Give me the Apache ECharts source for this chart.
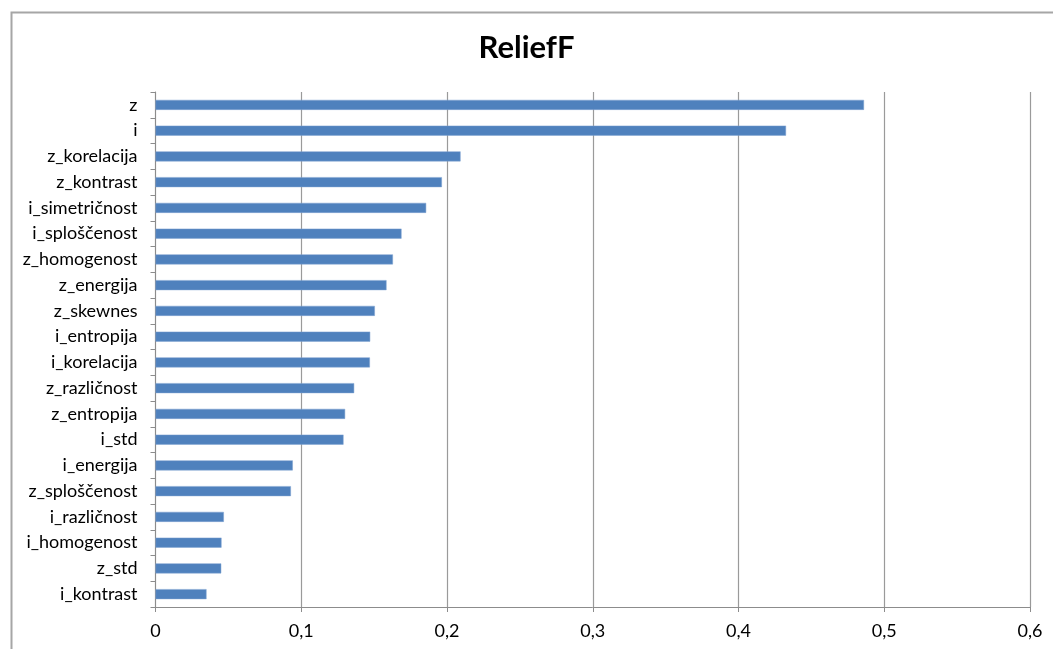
<!DOCTYPE html>
<html>
<head>
<meta charset="utf-8">
<script src="https://cdn.jsdelivr.net/npm/echarts@6/dist/echarts.min.js"></script>
<style>
html,body{margin:0;padding:0;background:#fff;}
#chart{width:1053px;height:649px;}
</style>
</head>
<body>
<div id="chart"></div>
<script>
var categories = ["z","i","z_korelacija","z_kontrast","i_simetričnost","i_sploščenost","z_homogenost","z_energija","z_skewnes","i_entropija","i_korelacija","z_različnost","z_entropija","i_std","i_energija","z_sploščenost","i_različnost","i_homogenost","z_std","i_kontrast"];
var values = [0.4861,0.4326,0.2093,0.1965,0.1857,0.1688,0.1629,0.1585,0.1505,0.1473,0.1471,0.1363,0.1301,0.1290,0.0942,0.0929,0.0469,0.0453,0.0451,0.0350];
var xTicks = [0,0.1,0.2,0.3,0.4,0.5,0.6];
var titleText = "ReliefF";

var FONT = "Lato, 'Open Sans', sans-serif";
var chart = echarts.init(document.getElementById('chart'), null, {renderer:'canvas'});
chart.setOption({
  backgroundColor:'#fff',
  animation:false,
  title:{
    text:titleText, left:'center', top:27,
    textStyle:{fontFamily:FONT, fontSize:31, fontWeight:'bold', color:'#000'}
  },
  graphic:[{
    type:'rect', left:9, top:10, silent:true,
    shape:{width:1100, height:700},
    style:{fill:'none', stroke:'#a6a6a6', lineWidth:2}
  }],
  grid:{left:155.5, right:23, top:92, bottom:42, containLabel:false},
  xAxis:{
    type:'value', min:xTicks[0], max:xTicks[xTicks.length-1], interval:0.1,
    axisLine:{show:true, lineStyle:{color:'#8c8c8c', width:1}},
    axisTick:{show:true, length:5, lineStyle:{color:'#8c8c8c'}},
    splitLine:{show:true, lineStyle:{color:'#9a9a9a', width:1.2}},
    axisLabel:{
      margin:15, color:'#000', fontFamily:FONT, fontSize:18,
      formatter:function(v){ return String(Math.round(v*10)/10).replace('.',','); }
    }
  },
  yAxis:{
    type:'category', data:categories, inverse:true,
    axisLine:{show:true, lineStyle:{color:'#8c8c8c', width:1}},
    axisTick:{show:true, length:5, alignWithLabel:false, lineStyle:{color:'#8c8c8c'}},
    axisLabel:{margin:18, color:'#000', fontFamily:FONT, fontSize:18}
  },
  series:[{
    type:'bar', data:values, barWidth:10,
    itemStyle:{color:'#4f81bd', borderColor:'#7fa3d0', borderWidth:0.5}
  }]
});
</script>
</body>
</html>
